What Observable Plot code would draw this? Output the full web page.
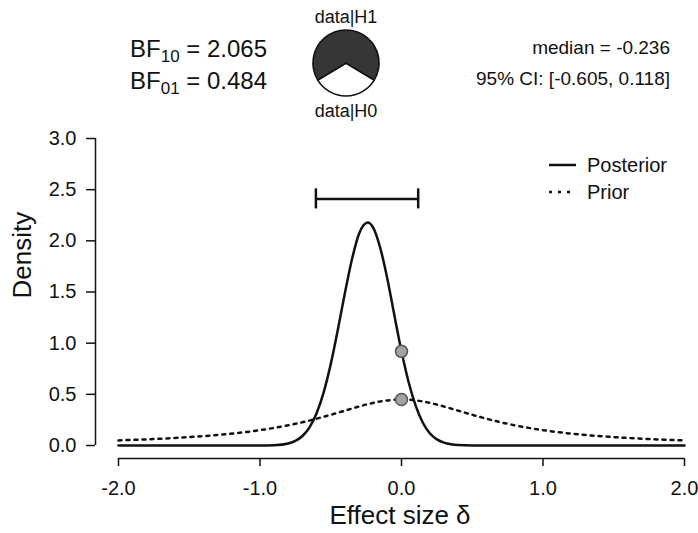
<!DOCTYPE html>
<html>
<head>
<meta charset="utf-8">
<script src="https://cdn.jsdelivr.net/npm/d3@7"></script>
<script src="https://cdn.jsdelivr.net/npm/@observablehq/plot@0.6"></script>
<style>
  body { margin: 0; background: #fff; }
  #wrap { position: relative; width: 698px; height: 533px; font-family: "Liberation Sans", Arial, sans-serif; color: #111; }
  #wrap > svg.overlay { position: absolute; left: 0; top: 0; pointer-events: none; }
</style>
</head>
<body>
<div id="wrap"></div>
<script>
// ---------- data ----------
const xTicks = [-2, -1, 0, 1, 2];
const yTicks = [0, 0.5, 1, 1.5, 2, 2.5, 3];

const posteriorX = [-2.0, -1.5, -1.0, -0.9, -0.8, -0.75, -0.7, -0.65, -0.6, -0.55, -0.5, -0.45, -0.4, -0.35, -0.3, -0.27, -0.24, -0.2, -0.15, -0.1, -0.05, 0.0, 0.05, 0.1, 0.15, 0.2, 0.25, 0.3, 0.35, 0.4, 0.5, 0.75, 1.0, 1.5, 2.0];
const posteriorY = [0.0, 0.0, 0.0, 0.003, 0.02, 0.045, 0.093, 0.177, 0.315, 0.52, 0.795, 1.13, 1.49, 1.82, 2.07, 2.15, 2.18, 2.13, 1.93, 1.63, 1.27, 0.92, 0.62, 0.39, 0.225, 0.12, 0.06, 0.028, 0.012, 0.005, 0.001, 0.0, 0.0, 0.0, 0.0];

const priorX = [-2.0, -1.75, -1.5, -1.25, -1.0, -0.75, -0.625, -0.5, -0.375, -0.25, -0.125, 0.0, 0.125, 0.25, 0.375, 0.5, 0.625, 0.75, 1.0, 1.25, 1.5, 1.75, 2.0];
const priorY = [0.05, 0.063, 0.082, 0.109, 0.15, 0.212, 0.253, 0.30, 0.351, 0.40, 0.436, 0.45, 0.436, 0.40, 0.351, 0.30, 0.253, 0.212, 0.15, 0.109, 0.082, 0.063, 0.05];

const nullPointX = [0, 0];
const nullPointY = [0.92, 0.45];

const ciLower = -0.605, ciUpper = 0.118;
const medianValue = -0.236;
const bf10 = 2.065, bf01 = 0.484;
const pieLabels = ["data|H1", "data|H0"];
const legendLabels = ["Posterior", "Prior"];
const xLabel = "Effect size δ";
const yLabel = "Density";

// ---------- layout constants ----------
const FONT = '"Liberation Sans", Arial, sans-serif';
const xLo = -2.1625, yLo = -0.127;
const ciLevel = 2.41, ciHalf = 0.098;

const posterior = posteriorX.map((x, i) => ({x, y: posteriorY[i]}));
const prior = priorX.map((x, i) => ({x, y: priorY[i]}));
const nullPoints = nullPointX.map((x, i) => ({x, y: nullPointY[i]}));
const fmt = d => d.toFixed(1);

const chart = Plot.plot({
  width: 698, height: 533,
  marginLeft: 95, marginRight: 14, marginTop: 138, marginBottom: 75,
  x: {domain: [xLo, 2.0]},
  y: {domain: [yLo, 3.0]},
  style: {fontFamily: FONT, fontSize: "20px", color: "#111", background: "#fff"},
  marks: [
    Plot.axisY({ticks: yTicks, tickSize: 9, tickPadding: 10, tickFormat: fmt, label: null, fontSize: 20, strokeWidth: 1.5}),
    Plot.axisX({ticks: xTicks, tickSize: 8, tickPadding: 14, tickFormat: fmt, label: null, fontSize: 20, strokeWidth: 1.5}),
    Plot.ruleX([xLo], {y1: 0, y2: 3, strokeWidth: 1.5}),
    Plot.ruleY([yLo], {x1: -2, x2: 2, strokeWidth: 1.5}),
    Plot.line(prior, {x: "x", y: "y", curve: "monotone-x", stroke: "#111", strokeWidth: 2.5, strokeDasharray: "3,5"}),
    Plot.line(posterior, {x: "x", y: "y", curve: "monotone-x", stroke: "#111", strokeWidth: 2.5}),
    Plot.ruleY([ciLevel], {x1: ciLower, x2: ciUpper, stroke: "#111", strokeWidth: 2.5}),
    Plot.ruleX([ciLower, ciUpper], {y1: ciLevel - ciHalf, y2: ciLevel + ciHalf, stroke: "#111", strokeWidth: 2.5}),
    Plot.dot(nullPoints, {x: "x", y: "y", r: 6, fill: "#a3a3a3", stroke: "#555", strokeWidth: 1.5}),
    Plot.text([yLabel], {frameAnchor: "left", dx: -73, rotate: -90, fontSize: 26}),
    Plot.text([xLabel], {frameAnchor: "bottom", dy: 65, dx: 10, fontSize: 26})
  ]
});
const wrap = document.getElementById("wrap");
wrap.appendChild(chart);

// ---------- overlay: BF text, pie, CI text, legend ----------
const svg = d3.select(wrap).append("svg").attr("class", "overlay")
  .attr("width", 698).attr("height", 533)
  .style("font-family", FONT).style("fill", "#111");

function bfLine(y, sub, val) {
  const t = svg.append("text").attr("x", 130).attr("y", y).attr("font-size", 24);
  t.append("tspan").text("BF");
  t.append("tspan").attr("font-size", 17).attr("dy", 5).text(sub);
  t.append("tspan").attr("dy", -5).text(" = " + val.toFixed(3));
}
bfLine(57, "10", bf10);
bfLine(89, "01", bf01);

// pie
const pH1 = bf10 / (1 + bf10), pH0 = 1 - pH1;
const start = Math.PI - Math.PI * pH0;
const pie = d3.pie().sort(null).value(d => d.v).startAngle(start).endAngle(start + 2 * Math.PI);
const arcs = pie([{k: "H0", v: pH0, c: "#fff"}, {k: "H1", v: pH1, c: "#363636"}]);
const arc = d3.arc().innerRadius(0).outerRadius(33);
const g = svg.append("g").attr("transform", "translate(346,63)");
g.selectAll("path").data(arcs).join("path")
  .attr("d", arc).attr("fill", d => d.data.c).attr("stroke", "#111").attr("stroke-width", 1.6).attr("stroke-linejoin", "round");
svg.append("text").attr("x", 346).attr("y", 23).attr("text-anchor", "middle").attr("font-size", 18).text(pieLabels[0]);
svg.append("text").attr("x", 346).attr("y", 117).attr("text-anchor", "middle").attr("font-size", 18).text(pieLabels[1]);

// median / CI text
svg.append("text").attr("x", 670).attr("y", 54).attr("text-anchor", "end").attr("font-size", 19)
  .text("median = " + medianValue.toFixed(3));
svg.append("text").attr("x", 670).attr("y", 85).attr("text-anchor", "end").attr("font-size", 19)
  .text("95% CI: [" + ciLower.toFixed(3) + ", " + ciUpper.toFixed(3) + "]");

// legend
const legDash = [null, "3,6"];
legendLabels.forEach((lab, i) => {
  const y = 165 + i * 27;
  svg.append("line").attr("x1", 549).attr("x2", 576).attr("y1", y).attr("y2", y)
    .attr("stroke", "#111").attr("stroke-width", 2.5).attr("stroke-dasharray", legDash[i]);
  svg.append("text").attr("x", 587).attr("y", y).attr("dy", "0.35em").attr("font-size", 20).text(lab);
});
</script>
</body>
</html>
